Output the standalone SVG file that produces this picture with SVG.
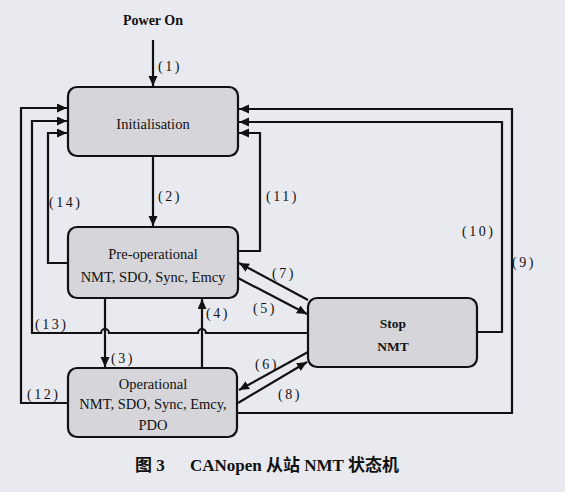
<svg xmlns="http://www.w3.org/2000/svg" width="565" height="492" viewBox="0 0 565 492">
<style>
.bg{fill:#e9e9f0}
.box{fill:#d5d5da;stroke:#111;stroke-width:2.2}
.t{font-family:"Liberation Serif","Times New Roman",serif;font-size:14.5px;fill:#111;text-anchor:middle}
.b{font-weight:bold}
.lbl{font-family:"Liberation Serif","Times New Roman",serif;font-size:14px;fill:#111;letter-spacing:2.5px}
.c{fill:none;stroke:#111;stroke-width:2.2}
.cap{font-family:"Liberation Serif","Noto Sans CJK SC",serif;font-size:17px;font-weight:bold;fill:#111}
</style>
<defs>
<marker id="ah" markerUnits="userSpaceOnUse" markerWidth="11" markerHeight="10" refX="10" refY="4.5" orient="auto">
<path d="M0,0 L10,4.5 L0,9 z" fill="#111"/>
</marker>
</defs>
<rect class="bg" x="0" y="0" width="565" height="492"/>
<g id="connectors">
<path class="c" d="M153,40 V86" marker-end="url(#ah)"/>
<path class="c" d="M153,157 V226" marker-end="url(#ah)"/>
<path class="c" d="M105,299 V367" marker-end="url(#ah)"/>
<path class="c" d="M202,368 V299" marker-end="url(#ah)"/>
<path class="c" d="M238,251 H260 V133 H239" marker-end="url(#ah)"/>
<path class="c" d="M68,263 H48 V133 H67" marker-end="url(#ah)"/>
<path class="c" d="M308,333 H206 A4,4 0 0 0 198,333 H109 A4,4 0 0 0 101,333 H32 V121 H67" marker-end="url(#ah)"/>
<path class="c" d="M68,403 H21 V108 H67" marker-end="url(#ah)"/>
<path class="c" d="M237,413 H512 V109 H239" marker-end="url(#ah)"/>
<path class="c" d="M477,332 H502 V122 H239" marker-end="url(#ah)"/>
<path class="c" d="M308,300 L239,263" marker-end="url(#ah)"/>
<path class="c" d="M238,278 L307,314" marker-end="url(#ah)"/>
<path class="c" d="M308,352 L239,390" marker-end="url(#ah)"/>
<path class="c" d="M238,403 L307,362" marker-end="url(#ah)"/>
</g>
<g id="labels">
<text class="lbl" x="158" y="71">(1)</text>
<text class="lbl" x="158" y="201">(2)</text>
<text class="lbl" x="111" y="363">(3)</text>
<text class="lbl" x="206" y="318">(4)</text>
<text class="lbl" x="253" y="313">(5)</text>
<text class="lbl" x="255" y="369">(6)</text>
<text class="lbl" x="272" y="278">(7)</text>
<text class="lbl" x="278" y="399">(8)</text>
<text class="lbl" x="512" y="267">(9)</text>
<text class="lbl" x="462" y="236">(10)</text>
<text class="lbl" x="266" y="201">(11)</text>
<text class="lbl" x="27" y="399">(12)</text>
<text class="lbl" x="35" y="329">(13)</text>
<text class="lbl" x="49" y="207">(14)</text>
</g>
<g id="power-on">
<text class="t b" x="153" y="25" style="font-size:14px">Power On</text>
</g>
<g id="initialisation">
<rect class="box" x="68" y="87" width="170" height="69" rx="9"/>
<text class="t" x="153" y="129">Initialisation</text>
</g>
<g id="pre-operational">
<rect class="box" x="68" y="227" width="170" height="71" rx="9"/>
<text class="t" x="153" y="259">Pre-operational</text>
<text class="t" x="153" y="282">NMT, SDO, Sync, Emcy</text>
</g>
<g id="operational">
<rect class="box" x="68" y="368" width="169" height="69" rx="9"/>
<text class="t" x="153" y="389">Operational</text>
<text class="t" x="153" y="409">NMT, SDO, Sync, Emcy,</text>
<text class="t" x="153" y="430">PDO</text>
</g>
<g id="stop">
<rect class="box" x="308" y="298" width="169" height="69" rx="9"/>
<text class="t b" x="393" y="328" style="font-size:13.5px">Stop</text>
<text class="t b" x="393" y="351" style="font-size:13.5px">NMT</text>
</g>
<g id="caption">
<text class="cap" x="135" y="471">图 3</text>
<text class="cap" x="190" y="471">CANopen 从站 NMT 状态机</text>
</g>
</svg>
